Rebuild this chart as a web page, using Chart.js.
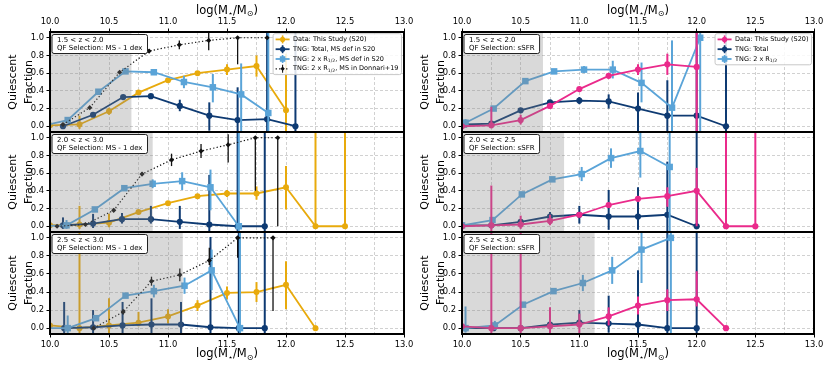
<!DOCTYPE html>
<html><head><meta charset="utf-8">
<script src="https://cdn.jsdelivr.net/npm/chart.js@4.4.1/dist/chart.umd.min.js"></script>
<style>
html,body{margin:0;padding:0;background:#fff;}
#wrap{position:relative;width:830px;height:369px;overflow:hidden;background:#fff;}
canvas{position:absolute;}
</style></head><body>
<div id="wrap">
<canvas id="cTL" width="420" height="144" style="left:0px;top:0px"></canvas>
<canvas id="cML" width="420" height="124" style="left:0px;top:120px"></canvas>
<canvas id="cBL" width="420" height="149" style="left:0px;top:220px"></canvas>
<canvas id="cTR" width="418" height="144" style="left:412px;top:0px"></canvas>
<canvas id="cMR" width="418" height="124" style="left:412px;top:120px"></canvas>
<canvas id="cBR" width="418" height="149" style="left:412px;top:220px"></canvas>
</div>
<script>
// ---------- axis ticks ----------
const xTicks = [10.0,10.25,10.5,10.75,11.0,11.25,11.5,11.75,12.0,12.25,12.5,12.75,13.0];
const yTicks = [0.0,0.2,0.4,0.6,0.8,1.0];

// ---------- shaded (incomplete) mass ranges ----------
const shadeTL = 10.69, shadeML = 10.87, shadeBL = 11.125;
const shadeTR = 10.69, shadeMR = 10.87, shadeBR = 11.13;

// ---------- panel texts ----------
const zLeft  = ['1.5 < z < 2.0', '2.0 < z < 3.0', '2.5 < z < 3.0'];
const zRight = ['1.5 < z < 2.0', '2.0 < z < 2.5', '2.5 < z < 3.0'];
const qfLeft = 'QF Selection: MS - 1 dex';
const qfRight = 'QF Selection: sSFR';
const labelsLeft  = ['Data: This Study (S20)', 'TNG: Total, MS def in S20', 'TNG: 2 x R_{1/2}, MS def in S20', 'TNG: 2 x R_{1/2}, MS in Donnari+19'];
const labelsRight = ['Data: This Study (S20)', 'TNG: Total', 'TNG: 2 x R_{1/2}'];
const massTitle = 'log(M_{\u22C6}/M_{\u2299})';

// ---------- top-left 1.5<z<2.0, MS - 1 dex ----------
const tlDataX = [10.0,10.25,10.5,10.75,11.0,11.25,11.5,11.75,12.0];
const tlDataY = [0.01,0.02,0.17,0.38,0.52,0.60,0.64,0.68,0.18];
const tlDataLo = [0.01,0.05,0.04,0.02,0.02,0.02,0.06,0.12,0.30];
const tlDataHi = [0.01,0.10,0.04,0.02,0.02,0.02,0.06,0.12,0.64];
const tlTotX = [10.11,10.365,10.62,10.855,11.10,11.35,11.59,11.84,12.08];
const tlTotY = [0.0,0.13,0.33,0.34,0.23,0.12,0.07,0.08,0.0];
const tlTotLo = [0.02,0.02,0.02,0.02,0.06,0.17,0.30,1.5,1.5];
const tlTotHi = [0.03,0.02,0.02,0.02,0.07,0.15,0.37,1.5,1.5];
const tlR12X = [9.92,10.15,10.41,10.64,10.88,11.135,11.38,11.62,11.85];
const tlR12Y = [0.0,0.07,0.39,0.62,0.61,0.50,0.44,0.36,0.15];
const tlR12Lo = [0,0.02,0.02,0.02,0.03,0.07,0.17,0.43,1.5];
const tlR12Hi = [0,0.02,0.02,0.02,0.03,0.07,0.15,0.35,1.5];
const tlDonX = [10.11,10.337,10.59,10.84,11.096,11.345,11.59,11.84];
const tlDonY = [0.02,0.21,0.61,0.85,0.92,0.97,1.0,1.0];
const tlDonLo = [0.02,0.01,0.01,0.02,0.05,0.11,0.30,0.0];
const tlDonHi = [0.02,0.01,0.01,0.02,0.05,0.10,0.0,0.0];

// ---------- middle-left 2.0<z<3.0, MS - 1 dex ----------
const mlDataX = [10.0,10.25,10.5,10.75,11.0,11.25,11.5,11.75,12.0,12.25,12.5];
const mlDataY = [0.01,0.02,0.04,0.16,0.26,0.34,0.37,0.37,0.44,0.0,0.0];
const mlDataLo = [0.01,0.05,0.05,0.02,0.02,0.02,0.04,0.07,0.25,0,0];
const mlDataHi = [0.01,0.21,0.10,0.02,0.02,0.02,0.04,0.08,0.24,1.5,1.5];
const mlTotX = [10.11,10.365,10.61,10.855,11.10,11.35,11.59,11.82];
const mlTotY = [0.01,0.03,0.08,0.08,0.05,0.02,0.0,0.0];
const mlTotLo = [0.04,0.05,0.05,0.05,0.08,0.10,1.5,1.5];
const mlTotHi = [0.09,0.11,0.07,0.15,0.18,0.56,1.5,1.5];
const mlR12X = [9.92,10.14,10.38,10.63,10.87,11.12,11.36,11.60];
const mlR12Y = [0.0,0.01,0.19,0.43,0.48,0.51,0.44,0.0];
const mlR12Lo = [0,0.04,0.02,0.02,0.05,0.10,0.26,1.5];
const mlR12Hi = [0,0.06,0.02,0.02,0.05,0.10,0.20,1.5];
const mlDonX = [10.06,10.30,10.54,10.78,11.03,11.28,11.51,11.74,11.93];
const mlDonY = [0.0,0.02,0.18,0.59,0.75,0.85,0.92,1.0,1.0];
const mlDonLo = [0,0.01,0.02,0.02,0.07,0.08,0.20,0.60,1.0];
const mlDonHi = [0,0.01,0.02,0.02,0.07,0.08,0.12,0.0,0.0];

// ---------- bottom-left 2.5<z<3.0, MS - 1 dex ----------
const blDataX = [10.0,10.25,10.5,10.75,11.0,11.25,11.5,11.75,12.0,12.25];
const blDataY = [0.03,0.0,0.03,0.06,0.13,0.25,0.39,0.40,0.48,0.0];
const blDataLo = [0.02,0.10,0.10,0.04,0.08,0.06,0.07,0.11,0.27,0.03];
const blDataHi = [0.02,1.5,0.30,0.12,0.08,0.06,0.07,0.11,0.26,0.03];
const blTotX = [10.12,10.365,10.615,10.86,11.11,11.36,11.60,11.82];
const blTotY = [0.0,0.01,0.03,0.04,0.04,0.01,0.0,0.0];
const blTotLo = [0.1,0.1,0.1,0.1,0.1,0.1,1.5,1.5];
const blTotHi = [0.29,0.19,0.26,0.29,0.25,1.0,1.5,1.5];
const blR12X = [9.92,10.15,10.39,10.64,10.88,11.14,11.37,11.61];
const blR12Y = [0.0,0.0,0.11,0.36,0.41,0.47,0.64,0.0];
const blR12Lo = [0,0.10,0.03,0.02,0.07,0.09,0.22,1.5];
const blR12Hi = [0,0.14,0.03,0.02,0.07,0.09,0.23,1.5];
const blDonX = [10.37,10.62,10.86,11.10,11.35,11.59,11.89];
const blDonY = [0.0,0.18,0.52,0.59,0.75,1.0,1.0];
const blDonLo = [0,0.03,0.05,0.07,0.05,0.22,0.81];
const blDonHi = [0,0.03,0.05,0.07,0.14,0.0,0.0];

// ---------- top-right 1.5<z<2.0, sSFR ----------
const trDataX = [10.0,10.25,10.5,10.75,11.0,11.25,11.5,11.75,12.0];
const trDataY = [0.0,0.01,0.07,0.23,0.42,0.57,0.64,0.70,0.67];
const trDataLo = [0.01,0.03,0.05,0.02,0.02,0.02,0.06,0.12,1.5];
const trDataHi = [0.01,0.21,0.06,0.02,0.02,0.02,0.06,0.12,1.5];
const trTotX = [10.03,10.25,10.5,10.75,11.0,11.25,11.5,11.75,12.0,12.25];
const trTotY = [0.02,0.03,0.18,0.27,0.29,0.28,0.20,0.12,0.12,0.0];
const trTotLo = [0.02,0.02,0.02,0.02,0.04,0.08,0.26,0.30,1.5,1.5];
const trTotHi = [0.02,0.02,0.02,0.02,0.04,0.08,0.18,0.40,1.5,1.5];
const trR12X = [10.03,10.27,10.54,10.785,11.04,11.285,11.53,11.79,12.03];
const trR12Y = [0.04,0.20,0.51,0.62,0.64,0.64,0.49,0.21,1.0];
const trR12Lo = [0.04,0.02,0.02,0.02,0.04,0.10,0.22,0.40,1.5];
const trR12Hi = [0.04,0.02,0.02,0.02,0.04,0.10,0.23,0.76,1.5];

// ---------- middle-right 2.0<z<2.5, sSFR ----------
const mrDataX = [10.0,10.25,10.5,10.75,11.0,11.25,11.5,11.75,12.0,12.25,12.5];
const mrDataY = [0.0,0.01,0.02,0.06,0.13,0.24,0.31,0.34,0.40,0.0,0.0];
const mrDataLo = [0.01,0.08,0.05,0.05,0.02,0.02,0.02,0.12,0.40,0,0];
const mrDataHi = [0.01,0.45,0.10,0.07,0.02,0.02,0.02,0.10,0.26,1.5,1.5];
const mrTotX = [10.0,10.25,10.5,10.75,11.0,11.25,11.5,11.75,12.0];
const mrTotY = [0.01,0.01,0.05,0.11,0.13,0.11,0.11,0.13,0.0];
const mrTotLo = [0.02,0.02,0.02,0.05,0.10,0.15,0.15,0.20,0.0];
const mrTotHi = [0.02,0.02,0.02,0.05,0.10,0.30,0.33,0.60,1.5];
const mrR12X = [10.0,10.26,10.51,10.77,11.02,11.27,11.52,11.77];
const mrR12Y = [0.01,0.07,0.36,0.53,0.59,0.77,0.85,0.67];
const mrR12Lo = [0.05,0.02,0.02,0.02,0.08,0.11,0.30,1.5];
const mrR12Hi = [0.10,0.02,0.02,0.02,0.08,0.11,0.25,1.5];

// ---------- bottom-right 2.5<z<3.0, sSFR ----------
const brDataX = [10.0,10.25,10.5,10.75,11.0,11.25,11.5,11.75,12.0,12.25];
const brDataY = [0.02,0.0,0.0,0.02,0.04,0.13,0.25,0.31,0.32,0.0];
const brDataLo = [0.02,0.10,0.10,0.10,0.10,0.10,0.10,0.12,0.08,0.02];
const brDataHi = [0.02,1.5,1.5,0.21,0.12,0.10,0.10,0.12,0.31,0.02];
const brTotX = [10.03,10.27,10.5,10.75,11.0,11.25,11.5,11.75,12.0];
const brTotY = [0.0,0.0,0.0,0.04,0.06,0.05,0.04,0.0,0.0];
const brTotLo = [0.02,0.02,0.02,0.02,0.05,0.10,0.10,1.5,1.5];
const brTotHi = [0.02,0.02,0.02,0.02,0.14,0.31,0.60,1.5,1.5];
const brR12X = [10.03,10.28,10.52,10.78,11.03,11.28,11.53,11.78];
const brR12Y = [0.0,0.03,0.26,0.41,0.50,0.64,0.87,1.0];
const brR12Lo = [0.05,0.05,0.02,0.03,0.09,0.15,0.37,1.5];
const brR12Hi = [0.24,0.05,0.02,0.03,0.09,0.15,0.25,1.5];

// ---------- styling ----------
const F = "'DejaVu Sans', 'Liberation Sans', sans-serif";
const GOLD = '#e8aa0c', NAVY = '#0e3a72', LBLUE = '#5aa4d8', PINK = '#ea2a8b', BLK = '#111111';
const GRID = 'rgba(150,150,150,0.55)';

function mk(xs, ys, lo, hi, label, color, shape, radius, extra) {
  return Object.assign({
    label: label, data: xs.map((x, i) => ({x: x, y: ys[i]})), errLo: lo, errHi: hi,
    showLine: true, borderColor: color, backgroundColor: color,
    pointBackgroundColor: color, pointBorderColor: color, pointBorderWidth: 0,
    borderWidth: 1.8, pointRadius: radius, pointHoverRadius: radius, pointStyle: shape,
    clip: 0, errWidth: 2, legendIdx: 0
  }, extra || {});
}

function segs(label) {
  const out = []; const re = /_\{([^}]*)\}/g; let last = 0, m;
  while ((m = re.exec(label))) {
    if (m.index > last) out.push({t: label.slice(last, m.index)});
    out.push({t: m[1], sub: true}); last = re.lastIndex;
  }
  if (last < label.length) out.push({t: label.slice(last)});
  return out;
}
function measureSegs(ctx, ss, size) {
  let w = 0;
  ss.forEach(s => { ctx.font = (s.sub ? size * 0.7 : size) + 'px ' + F; w += ctx.measureText(s.t).width; });
  return w;
}
function drawSegs(ctx, ss, x, y, size) {
  ctx.textBaseline = 'middle'; ctx.textAlign = 'left';
  ss.forEach(s => {
    const fs = s.sub ? size * 0.7 : size;
    ctx.font = fs + 'px ' + F;
    ctx.fillText(s.t, x, s.sub ? y + size * 0.28 : y);
    x += ctx.measureText(s.t).width;
  });
}
function marker(ctx, shape, r, x, y, color) {
  ctx.fillStyle = color; ctx.beginPath();
  if (shape === 'rect') { const s = r * Math.SQRT1_2; ctx.rect(x - s, y - s, 2 * s, 2 * s); }
  else if (shape === 'rectRot') { ctx.moveTo(x, y - r); ctx.lineTo(x + r, y); ctx.lineTo(x, y + r); ctx.lineTo(x - r, y); ctx.closePath(); }
  else { ctx.arc(x, y, r, 0, Math.PI * 2); }
  ctx.fill();
}
function rrect(ctx, x, y, w, h, r) {
  ctx.beginPath(); ctx.moveTo(x + r, y);
  ctx.arcTo(x + w, y, x + w, y + h, r); ctx.arcTo(x + w, y + h, x, y + h, r);
  ctx.arcTo(x, y + h, x, y, r); ctx.arcTo(x, y, x + w, y, r); ctx.closePath();
}

const errPlugin = {
  id: 'errbars',
  beforeDatasetDraw(chart, args) {
    const ds = chart.data.datasets[args.index];
    if (!ds.errLo) return;
    const ctx = chart.ctx, a = chart.chartArea, xs = chart.scales.x, ys = chart.scales.y;
    ctx.save();
    ctx.beginPath(); ctx.rect(a.left, a.top, a.right - a.left, a.bottom - a.top); ctx.clip();
    ctx.strokeStyle = ds.borderColor; ctx.lineWidth = ds.errWidth; ctx.setLineDash([]);
    ds.data.forEach((p, i) => {
      if (!(ds.errLo[i] > 0 || ds.errHi[i] > 0)) return;
      const x = xs.getPixelForValue(p.x);
      ctx.beginPath();
      ctx.moveTo(x, ys.getPixelForValue(p.y - ds.errLo[i]));
      ctx.lineTo(x, ys.getPixelForValue(p.y + ds.errHi[i]));
      ctx.stroke();
    });
    ctx.restore();
  }
};
const shadePlugin = {
  id: 'shade',
  afterDatasetsDraw(chart, args, opts) {
    const ctx = chart.ctx, a = chart.chartArea, xs = chart.scales.x;
    const x1 = xs.getPixelForValue(10.0), x2 = xs.getPixelForValue(opts.end);
    ctx.save(); ctx.fillStyle = 'rgba(128,128,128,0.3)';
    ctx.fillRect(x1, a.top, x2 - x1, a.bottom - a.top); ctx.restore();
  }
};
const textPlugin = {
  id: 'panelText',
  afterDraw(chart, args, opts) {
    const ctx = chart.ctx, a = chart.chartArea;
    ctx.save();
    // frame
    ctx.strokeStyle = '#000'; ctx.lineWidth = 2; ctx.setLineDash([]);
    ctx.strokeRect(a.left, a.top, a.right - a.left, a.bottom - a.top);
    // annotation box
    const fs = 7;
    ctx.font = fs + 'px ' + F;
    const w = Math.max(ctx.measureText(opts.z).width, ctx.measureText(opts.qf).width) + 10;
    const bx = a.left + 2, by = a.top + 2.5, bh = 19;
    rrect(ctx, bx, by, w, bh, 2);
    ctx.fillStyle = '#fff'; ctx.fill(); ctx.strokeStyle = '#222'; ctx.lineWidth = 1; ctx.stroke();
    ctx.fillStyle = '#000'; ctx.textBaseline = 'middle'; ctx.textAlign = 'left';
    ctx.fillText(opts.z, bx + 5, by + 5.8);
    ctx.fillText(opts.qf, bx + 5, by + 13.2);
    // legend
    if (opts.legend) {
      const items = chart.data.datasets.slice().sort((p, q) => p.legendIdx - q.legendIdx);
      const lfs = 6.5, rowH = 9.8;
      let tw = 0;
      items.forEach(d => { tw = Math.max(tw, measureSegs(ctx, segs(d.label), lfs)); });
      const lw = tw + 23, lh = (items.length - 1) * rowH + 11.5;
      const lx = a.right - 2.5 - lw, ly = a.top + 1.7;
      rrect(ctx, lx, ly, lw, lh, 2);
      ctx.fillStyle = 'rgba(255,255,255,0.85)'; ctx.fill();
      ctx.strokeStyle = '#c8c8c8'; ctx.lineWidth = 1; ctx.stroke();
      items.forEach((d, i) => {
        const cy = ly + 5.7 + i * rowH, x0 = lx + 2.5, x1 = lx + 16.5, xm = (x0 + x1) / 2;
        ctx.strokeStyle = d.borderColor; ctx.lineWidth = d.borderWidth;
        ctx.setLineDash(d.borderDash || []);
        ctx.beginPath(); ctx.moveTo(x0, cy); ctx.lineTo(x1, cy); ctx.stroke();
        ctx.setLineDash([]); ctx.lineWidth = d.errWidth * 0.8;
        ctx.beginPath(); ctx.moveTo(xm, cy - 4); ctx.lineTo(xm, cy + 4); ctx.stroke();
        marker(ctx, d.pointStyle, d.pointRadius * 0.85, xm, cy, d.borderColor);
        ctx.fillStyle = '#000';
        drawSegs(ctx, segs(d.label), lx + 20, cy, lfs);
      });
    }
    // mass axis title
    if (opts.row === 'top' || opts.row === 'bottom') {
      const ss = segs(massTitle), size = 11.5;
      const w2 = measureSegs(ctx, ss, size);
      const cx = (a.left + a.right) / 2;
      const cy = opts.row === 'top' ? 11 : a.bottom + 20.5;
      ctx.fillStyle = '#000';
      drawSegs(ctx, ss, cx - w2 / 2, cy, size);
    }
    ctx.restore();
  }
};

function isMajor(v) { return Math.abs(v * 2 - Math.round(v * 2)) < 1e-6; }

function makePanel(id, row, datasets, shadeEnd, zText, qfText, legend) {
  const showX = row !== 'mid';
  return new Chart(document.getElementById(id), {
    type: 'scatter',
    data: {datasets: datasets},
    options: {
      responsive: false, animation: false, devicePixelRatio: 1,
      events: [],
      layout: {padding: {left: 0, right: 16, top: row === 'top' ? 0 : 12, bottom: row === 'bottom' ? 0 : 12}},
      plugins: {
        legend: {display: false}, tooltip: {enabled: false},
        shade: {end: shadeEnd},
        panelText: {z: zText, qf: qfText, legend: legend, row: row}
      },
      scales: {
        x: {
          type: 'linear', min: 10, max: 13, position: row === 'top' ? 'top' : 'bottom',
          afterBuildTicks: s => { s.ticks = xTicks.map(v => ({value: v})); },
          afterFit: s => { s.height = row === 'top' ? 32 : (row === 'bottom' ? 35 : 0); },
          ticks: {display: showX, autoSkip: false, maxRotation: 0, minRotation: 0, color: '#000', padding: 2,
                  font: {family: F, size: 8.4}, callback: v => isMajor(v) ? v.toFixed(1) : ''},
          grid: {color: GRID, lineWidth: 0.8, drawTicks: showX, tickLength: 3.5, tickWidth: 1,
                 tickColor: c => (c.tick && isMajor(c.tick.value)) ? '#000' : 'rgba(0,0,0,0)'},
          border: {display: false, dash: [3, 2]}
        },
        y: {
          min: -0.065, max: 1.065,
          afterBuildTicks: s => { s.ticks = yTicks.map(v => ({value: v})); },
          afterFit: s => { s.width = 50; },
          ticks: {color: '#000', padding: 2.5, font: {family: F, size: 8.4}, callback: v => v.toFixed(1)},
          grid: {color: GRID, lineWidth: 0.8, tickLength: 3.5, tickWidth: 1, tickColor: '#000'},
          border: {display: false, dash: [3, 2]},
          title: {display: true, text: ['Quiescent', 'Fraction'], color: '#000',
                  font: {family: F, size: 11, lineHeight: 1.45}, padding: {top: 5, bottom: 0}}
        }
      }
    },
    plugins: [errPlugin, shadePlugin, textPlugin]
  });
}

function leftSets(dx, dy, dlo, dhi, tx, ty, tlo, thi, rx, ry, rlo, rhi, nx, ny, nlo, nhi) {
  return [
    mk(nx, ny, nlo, nhi, labelsLeft[3], BLK, 'rectRot', 2.6, {borderWidth: 1.2, borderDash: [1.3, 2.2], errWidth: 1.3, legendIdx: 3}),
    mk(rx, ry, rlo, rhi, labelsLeft[2], LBLUE, 'rect', 4.6, {legendIdx: 2}),
    mk(tx, ty, tlo, thi, labelsLeft[1], NAVY, 'circle', 3.1, {legendIdx: 1}),
    mk(dx, dy, dlo, dhi, labelsLeft[0], GOLD, 'circle', 3.0, {legendIdx: 0})
  ];
}
function rightSets(dx, dy, dlo, dhi, tx, ty, tlo, thi, rx, ry, rlo, rhi) {
  return [
    mk(dx, dy, dlo, dhi, labelsRight[0], PINK, 'circle', 3.1, {legendIdx: 0}),
    mk(rx, ry, rlo, rhi, labelsRight[2], LBLUE, 'rect', 4.6, {legendIdx: 2}),
    mk(tx, ty, tlo, thi, labelsRight[1], NAVY, 'circle', 3.1, {legendIdx: 1})
  ];
}

makePanel('cTL', 'top', leftSets(tlDataX, tlDataY, tlDataLo, tlDataHi, tlTotX, tlTotY, tlTotLo, tlTotHi, tlR12X, tlR12Y, tlR12Lo, tlR12Hi, tlDonX, tlDonY, tlDonLo, tlDonHi), shadeTL, zLeft[0], qfLeft, true);
makePanel('cML', 'mid', leftSets(mlDataX, mlDataY, mlDataLo, mlDataHi, mlTotX, mlTotY, mlTotLo, mlTotHi, mlR12X, mlR12Y, mlR12Lo, mlR12Hi, mlDonX, mlDonY, mlDonLo, mlDonHi), shadeML, zLeft[1], qfLeft, false);
makePanel('cBL', 'bottom', leftSets(blDataX, blDataY, blDataLo, blDataHi, blTotX, blTotY, blTotLo, blTotHi, blR12X, blR12Y, blR12Lo, blR12Hi, blDonX, blDonY, blDonLo, blDonHi), shadeBL, zLeft[2], qfLeft, false);
makePanel('cTR', 'top', rightSets(trDataX, trDataY, trDataLo, trDataHi, trTotX, trTotY, trTotLo, trTotHi, trR12X, trR12Y, trR12Lo, trR12Hi), shadeTR, zRight[0], qfRight, true);
makePanel('cMR', 'mid', rightSets(mrDataX, mrDataY, mrDataLo, mrDataHi, mrTotX, mrTotY, mrTotLo, mrTotHi, mrR12X, mrR12Y, mrR12Lo, mrR12Hi), shadeMR, zRight[1], qfRight, false);
makePanel('cBR', 'bottom', rightSets(brDataX, brDataY, brDataLo, brDataHi, brTotX, brTotY, brTotLo, brTotHi, brR12X, brR12Y, brR12Lo, brR12Hi), shadeBR, zRight[2], qfRight, false);
</script>
</body></html>
